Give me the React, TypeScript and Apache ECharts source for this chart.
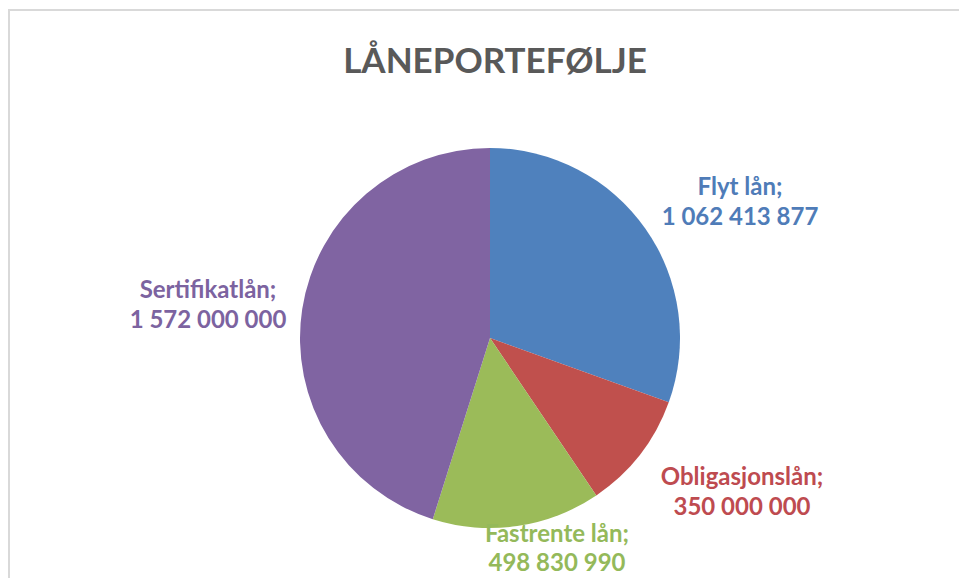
import React, { useEffect, useRef } from "react";
import * as echarts from "echarts";

const TITLE = "LÅNEPORTEFØLJE";
const CATEGORIES = ["Flyt lån", "Obligasjonslån", "Fastrente lån", "Sertifikatlån"];
const VALUES = [1062413877, 350000000, 498830990, 1572000000];
const COLORS = ["#4F81BD", "#C0504D", "#9BBB59", "#8064A2"];
const LABEL_COLORS = ["#4F7CB8", "#BE4B50", "#94B95A", "#7C63A0"];
const LABEL_POS: [number, number][] = [
  [740, 200],
  [742, 490],
  [557, 547],
  [208, 303],
];

function fmt(v: number): string {
  return String(v).replace(/\B(?=(\d{3})+(?!\d))/g, " ");
}

export default function App() {
  const ref = useRef<HTMLDivElement>(null);
  useEffect(() => {
    if (!ref.current) return;
    const chart = echarts.init(ref.current, undefined, { renderer: "svg" });
    chart.setOption({
      animation: false,
      backgroundColor: "#ffffff",
      title: {
        text: TITLE,
        top: 36,
        left: 490,
        textAlign: "center",
        textStyle: {
          fontFamily: "Lato",
          fontWeight: "bold",
          fontSize: 35,
          color: "#595959",
        },
      },
      graphic: [
        {
          type: "rect",
          shape: { x: 9, y: 10, width: 960, height: 580 },
          style: { fill: "none", stroke: "#d9d9d9", lineWidth: 2 },
          silent: true,
        },
      ],
      series: [
        {
          type: "pie",
          center: [490, 338],
          radius: 190,
          startAngle: 90,
          clockwise: true,
          data: CATEGORIES.map((name, i) => ({
            name,
            value: VALUES[i],
            itemStyle: { color: COLORS[i] },
            label: { color: LABEL_COLORS[i], lineHeight: i === 2 ? 29 : 30 },
          })),
          itemStyle: { borderWidth: 0 },
          labelLine: { show: false },
          label: {
            show: true,
            position: "outside",
            formatter: (p: any) => `${p.name};\n${fmt(p.value)}`,
            fontFamily: "Lato",
            fontWeight: "bold",
            fontSize: 24,
            lineHeight: 30,
            align: "center",
          },
          labelLayout: (p: any) => ({
            x: LABEL_POS[p.dataIndex][0],
            y: LABEL_POS[p.dataIndex][1],
            align: "center",
            verticalAlign: "middle",
          }),
        },
      ],
    });
    return () => chart.dispose();
  }, []);
  return (
    <div
      ref={ref}
      style={{ position: "fixed", left: 0, top: 0, width: 959, height: 578 }}
    />
  );
}
